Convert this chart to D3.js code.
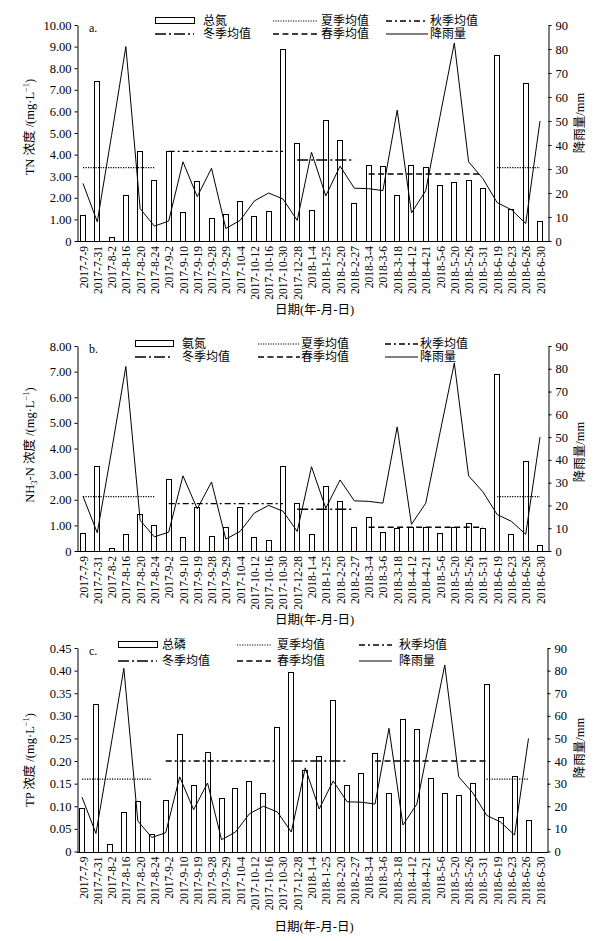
<!DOCTYPE html>
<html><head><meta charset="utf-8">
<script src="https://cdn.jsdelivr.net/npm/d3@7"></script>
<style>
body{margin:0;background:#fff}
text{font-family:"Liberation Serif","Noto Sans CJK SC",serif;fill:#000}
</style>
</head><body>
<svg id="chart" width="606" height="941"></svg>
<script>
// ---------- data ----------
const dates = ["2017-7-9","2017-7-31","2017-8-2","2017-8-16","2017-8-20","2017-8-24","2017-9-2","2017-9-10","2017-9-19","2017-9-28","2017-9-29","2017-10-4","2017-10-12","2017-10-16","2017-10-30","2017-12-28","2018-1-4","2018-1-25","2018-2-20","2018-2-27","2018-3-4","2018-3-6","2018-3-18","2018-4-12","2018-4-21","2018-5-6","2018-5-20","2018-5-26","2018-5-31","2018-6-19","2018-6-23","2018-6-26","2018-6-30"];
const rainfall = [24,8,44,81,13.5,6.2,8.3,33,18.5,30.3,5.2,8.6,16.7,20,17.5,8.6,37,18.8,31.2,22,21.8,21,54.5,11.7,21,52,82.5,33,26,16,13,7.3,50];
const tn = [1.22,7.42,0.18,2.12,4.16,2.81,4.17,1.33,2.78,1.08,1.27,1.84,1.17,1.39,8.87,4.54,1.45,5.6,4.67,1.78,3.54,3.46,2.15,3.54,3.43,2.57,2.74,2.84,2.47,8.61,1.47,7.33,0.93];
const nh3n = [0.69,3.33,0.13,0.67,1.46,1.02,2.81,0.54,1.72,0.6,0.92,1.72,0.54,0.41,3.3,1.89,0.65,2.55,1.95,0.92,1.33,0.76,0.88,0.92,0.92,0.7,0.93,1.09,0.91,6.9,0.65,3.51,0.23];
const tp = [0.097,0.326,0.016,0.087,0.111,0.039,0.113,0.26,0.146,0.221,0.118,0.14,0.156,0.129,0.276,0.396,0.18,0.211,0.336,0.146,0.173,0.217,0.129,0.293,0.27,0.162,0.129,0.125,0.151,0.371,0.076,0.167,0.07];

const seasonKeys  = ["summer","autumn","winter","spring","summer"];
const seasonStart = ["2017-7-9","2017-9-2","2017-12-28","2018-3-4","2018-6-19"];
const seasonEnd   = ["2017-8-24","2017-10-30","2018-2-27","2018-5-31","2018-6-30"];
const tpSeasonStart = ["2017-7-9","2017-9-2","2017-12-28","2018-3-6","2018-6-19"];
const tpSeasonEnd   = ["2017-8-24","2017-10-30","2018-2-27","2018-6-19","2018-6-30"];
const tnMeans   = [3.4,4.15,3.75,3.1,3.4];
const nh3nMeans = [2.12,1.85,1.63,0.93,2.12];
const tpMeans   = [0.16,0.20,0.20,0.20,0.16];

const leftTicksTN = [0,1,2,3,4,5,6,7,8,9,10];
const leftTicksNH = [0,1,2,3,4,5,6,7,8];
const leftTicksTP = [0,0.05,0.1,0.15,0.2,0.25,0.3,0.35,0.4,0.45];
const rightTicks = [0,10,20,30,40,50,60,70,80,90];

const legendLabels = {summer:"夏季均值",autumn:"秋季均值",winter:"冬季均值",spring:"春季均值",rain:"降雨量"};

// ---------- styles ----------
const seasonStyle = {
  summer:{dash:"1.2,1.3", w:1.2},
  autumn:{dash:"6,3,2,3", w:1.4},
  winter:{dash:"11,3,2,3", w:1.6},
  spring:{dash:"6,3.5", w:1.5}
};

const svg = d3.select("#chart");

const panels = [
  {tag:"a.", values:tn, barName:"总氮", means:tnMeans, sStart:seasonStart, sEnd:seasonEnd, ticks:leftTicksTN,
   top:25, bottom:241, xl:77, xr:548, barRange:[83,540], labRange:[83,540],
   leftTitle:[{t:"TN 浓度 /(mg·L"},{t:"−1",sup:true},{t:")"}], leftTitleY:127, rightTitleY:123, xTitleY:314,
   legY:[21,34], cols:[[155,194,203],[273,318,321],[386,428,430]]},
  {tag:"b.", values:nh3n, barName:"氨氮", means:nh3nMeans, sStart:seasonStart, sEnd:seasonEnd, ticks:leftTicksNH,
   top:346, bottom:551, xl:77, xr:548, barRange:[83,540], labRange:[83,540],
   leftTitle:[{t:"NH"},{t:"3",sub:true},{t:"-N 浓度 /(mg·L"},{t:"−1",sup:true},{t:")"}], leftTitleY:445, rightTitleY:452, xTitleY:624,
   legY:[344,357], cols:[[135,173,182],[258,300,301],[385,418,420]]},
  {tag:"c.", values:tp, barName:"总磷", means:tpMeans, sStart:tpSeasonStart, sEnd:tpSeasonEnd, ticks:leftTicksTP,
   top:648, bottom:851.5, xl:77, xr:547, barRange:[82,528.5], labRange:[83,540],
   leftTitle:[{t:"TP 浓度 /(mg·L"},{t:"−1",sup:true},{t:")"}], leftTitleY:760, rightTitleY:748, xTitleY:931,
   legY:[645,661], cols:[[118,157,162],[237,271,277],[359,392,399]]}
];

panels.forEach(p => {
  const g = svg.append("g");
  const yMax = p.ticks[p.ticks.length-1];
  const yL = d3.scaleLinear().domain([0,yMax]).range([p.bottom,p.top]);
  const yR = d3.scaleLinear().domain([0,90]).range([p.bottom,p.top]);
  const xBar = d3.scalePoint().domain(dates).range(p.barRange);
  const xLab = d3.scalePoint().domain(dates).range(p.labRange);

  // bars
  const bw = 6;
  g.append("g").selectAll("rect").data(p.values).join("rect")
    .attr("x",(d,i)=>Math.round(xBar(dates[i])-bw/2)+0.5)
    .attr("y",d=>Math.round(yL(d))+0.5)
    .attr("width",bw-1)
    .attr("height",d=>Math.max(0,Math.round(p.bottom)-Math.round(yL(d))))
    .attr("fill","#fff").attr("stroke","#000").attr("stroke-width",1);

  // season means
  p.means.forEach((m,i)=>{
    const st = seasonStyle[seasonKeys[i]];
    g.append("line")
      .attr("x1",xBar(p.sStart[i])).attr("x2",xBar(p.sEnd[i]))
      .attr("y1",yL(m)).attr("y2",yL(m))
      .attr("stroke","#000").attr("stroke-width",st.w).attr("stroke-dasharray",st.dash);
  });

  // rainfall
  const line = d3.line().x((d,i)=>xBar(dates[i])).y(d=>yR(d));
  g.append("path").datum(rainfall).attr("d",line)
    .attr("fill","none").attr("stroke","#000").attr("stroke-width",1);

  // axes
  const fmt = d => d===0 ? "0" : d.toFixed(2);
  const aL = g.append("g").attr("transform",`translate(${p.xl+0.5},0)`)
    .call(d3.axisLeft(yL).tickValues(p.ticks).tickFormat(fmt).tickSize(3).tickSizeOuter(0).tickPadding(3));
  const aR = g.append("g").attr("transform",`translate(${p.xr+0.5},0)`)
    .call(d3.axisRight(yR).tickValues(rightTicks).tickSize(3).tickSizeOuter(0).tickPadding(4));
  [aL,aR].forEach(a=>{
    a.selectAll("text").style("font-family",'"Liberation Serif",serif').style("font-size","12.5px");
    a.selectAll("path,line").attr("stroke","#000");
  });
  // baseline
  g.append("line").attr("x1",p.xl).attr("x2",p.xr+1).attr("y1",Math.round(p.bottom)+0.5).attr("y2",Math.round(p.bottom)+0.5)
    .attr("stroke","#000").attr("stroke-width",1);

  // x labels
  const aX = g.append("g").attr("transform",`translate(0,${p.bottom+1})`)
    .call(d3.axisBottom(xLab).tickSize(0).tickPadding(0));
  aX.select(".domain").remove();
  aX.selectAll("text")
    .attr("transform","rotate(-90)").attr("text-anchor","end")
    .attr("x",-4).attr("y",0).attr("dy","0.35em")
    .style("font-family",'"Liberation Serif",serif').style("font-size","11.5px");

  // titles
  g.append("text").attr("x",(p.xl+p.xr)/2+2).attr("y",p.xTitleY).attr("text-anchor","middle")
    .style("font-size","12.5px").text("日期(年-月-日)");
  const lt = g.append("text").attr("transform",`translate(34,${p.leftTitleY}) rotate(-90)`)
    .attr("text-anchor","middle").style("font-size","12.5px");
  p.leftTitle.forEach((s,i)=>{
    const ts = lt.append("tspan").text(s.t);
    const prev = i>0 ? p.leftTitle[i-1] : null;
    let dy = 0;
    if(prev && prev.sup) dy += 5;
    if(prev && prev.sub) dy -= 3;
    if(s.sup){ dy -= 5; ts.style("font-size","8.5px"); }
    if(s.sub){ dy += 3; ts.style("font-size","8.5px"); }
    if(dy) ts.attr("dy",dy);
  });
  g.append("text").attr("transform",`translate(584,${p.rightTitleY}) rotate(-90)`)
    .attr("text-anchor","middle").style("font-size","12.5px").text("降雨量/mm");

  g.append("text").attr("x",p.xl+12).attr("y",p.top+7).style("font-size","12px").text(p.tag);

  // legend
  const items = [
    [{type:"bar",label:p.barName},{type:"summer"},{type:"autumn"}],
    [{type:"winter"},{type:"spring"},{type:"rain"}]
  ];
  items.forEach((row,ri)=>{
    const y = p.legY[ri];
    row.forEach((it,ci)=>{
      const [x1,x2,tx] = p.cols[ci];
      if(it.type==="bar"){
        g.append("rect").attr("x",x1+0.5).attr("y",y-3.5).attr("width",x2-x1).attr("height",6)
          .attr("fill","#fff").attr("stroke","#000");
      } else if(it.type==="rain"){
        g.append("line").attr("x1",x1).attr("x2",x2).attr("y1",y).attr("y2",y).attr("stroke","#000").attr("stroke-width",1);
      } else {
        const st = seasonStyle[it.type];
        g.append("line").attr("x1",x1).attr("x2",x2).attr("y1",y).attr("y2",y)
          .attr("stroke","#000").attr("stroke-width",st.w).attr("stroke-dasharray",st.dash);
      }
      g.append("text").attr("x",tx).attr("y",y).attr("dy","0.36em").style("font-size","12px")
        .text(it.type==="bar" ? it.label : legendLabels[it.type]);
    });
  });
});
</script>
</body></html>
